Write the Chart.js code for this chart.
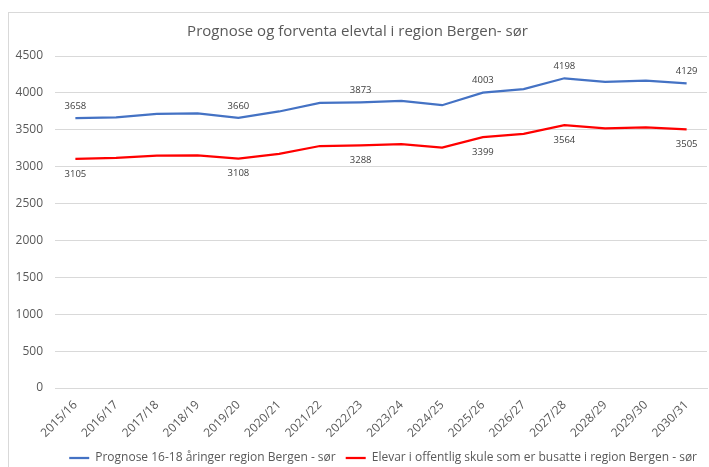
<!DOCTYPE html>
<html>
<head>
<meta charset="utf-8">
<script src="https://cdn.jsdelivr.net/npm/chart.js@4"></script>
<style>
  body { margin: 0; background: #fff; }
  #wrap { position: relative; width: 709px; height: 467px; }
  #frame { position: absolute; left: 8px; top: 12px; right: 0; bottom: 0;
           border-left: 1px solid #d9d9d9; border-top: 1px solid #d9d9d9; }
  canvas { position: absolute; left: 0; top: 0; }
</style>
</head>
<body>
<div id="wrap">
  <div id="frame"></div>
  <canvas id="chart" width="709" height="467"></canvas>
</div>
<script>
const years = ["2015/16", "2016/17", "2017/18", "2018/19", "2019/20", "2020/21", "2021/22", "2022/23",
  "2023/24", "2024/25", "2025/26", "2026/27", "2027/28", "2028/29", "2029/30", "2030/31"];
const prognose = [3658, 3667, 3716, 3721, 3660, 3748, 3865, 3873, 3891, 3833, 4003, 4052, 4198, 4149, 4167, 4129];
const elevar = [3105, 3118, 3150, 3154, 3108, 3172, 3280, 3288, 3306, 3257, 3399, 3445, 3564, 3519, 3532, 3505];
const labelled = [0, 4, 7, 10, 12, 15];

const font = "'Open Sans', sans-serif";

// value labels above the blue line and below the red one
const valueLabels = {
  id: "valueLabels",
  afterDatasetsDraw(chart) {
    const ctx = chart.ctx;
    ctx.save();
    ctx.font = "9.5px " + font;
    ctx.fillStyle = "#404040";
    ctx.textAlign = "center";
    ctx.textBaseline = "middle";
    chart.data.datasets.forEach((ds, i) => {
      const meta = chart.getDatasetMeta(i);
      labelled.forEach(idx => {
        const pt = meta.data[idx];
        const dy = i === 0 ? -12 : 15;
        ctx.fillText(ds.data[idx], pt.x, pt.y + dy);
      });
    });
    ctx.restore();
  }
};

new Chart(document.getElementById("chart"), {
  type: "line",
  data: {
    labels: years,
    datasets: [
      {
        label: "Prognose 16-18 åringer region Bergen - sør",
        data: prognose,
        borderColor: "#4472c4",
        backgroundColor: "#4472c4",
        borderWidth: 2.25,
        pointRadius: 0,
        tension: 0
      },
      {
        label: "Elevar i offentlig skule som er busatte i region Bergen - sør",
        data: elevar,
        borderColor: "#ff0000",
        backgroundColor: "#ff0000",
        borderWidth: 2.25,
        pointRadius: 0,
        tension: 0
      }
    ]
  },
  options: {
    responsive: false,
    animation: false,
    layout: { padding: { left: 8, right: 2, top: 12, bottom: -7 } },
    plugins: {
      title: {
        display: true,
        text: "Prognose og forventa elevtal i region Bergen- sør",
        color: "#595959",
        font: { family: font, size: 15, weight: "normal" },
        padding: { top: 11, bottom: 15 }
      },
      legend: {
        position: "bottom",
        align: "end",
        labels: {
          color: "#595959",
          font: { family: font, size: 12 },
          usePointStyle: true,
          pointStyle: "line",
          pointStyleWidth: 20,
          padding: 10
        }
      },
      tooltip: { enabled: false }
    },
    scales: {
      x: {
        offset: true,
        grid: { display: false },
        border: { color: "#d9d9d9" },
        afterFit: s => { s.height = 54; },
        ticks: {
          color: "#595959",
          font: { family: font, size: 12 },
          minRotation: 45,
          maxRotation: 45,
          autoSkip: false,
          padding: 2
        }
      },
      y: {
        min: 0,
        max: 4500,
        grid: { color: "#d9d9d9", drawTicks: false },
        border: { display: false },
        afterFit: s => { s.width = 47; },
        ticks: {
          stepSize: 500,
          color: "#595959",
          font: { family: font, size: 12 },
          padding: 12,
          callback: v => String(v)
        }
      }
    }
  },
  plugins: [valueLabels]
});
</script>
</body>
</html>
